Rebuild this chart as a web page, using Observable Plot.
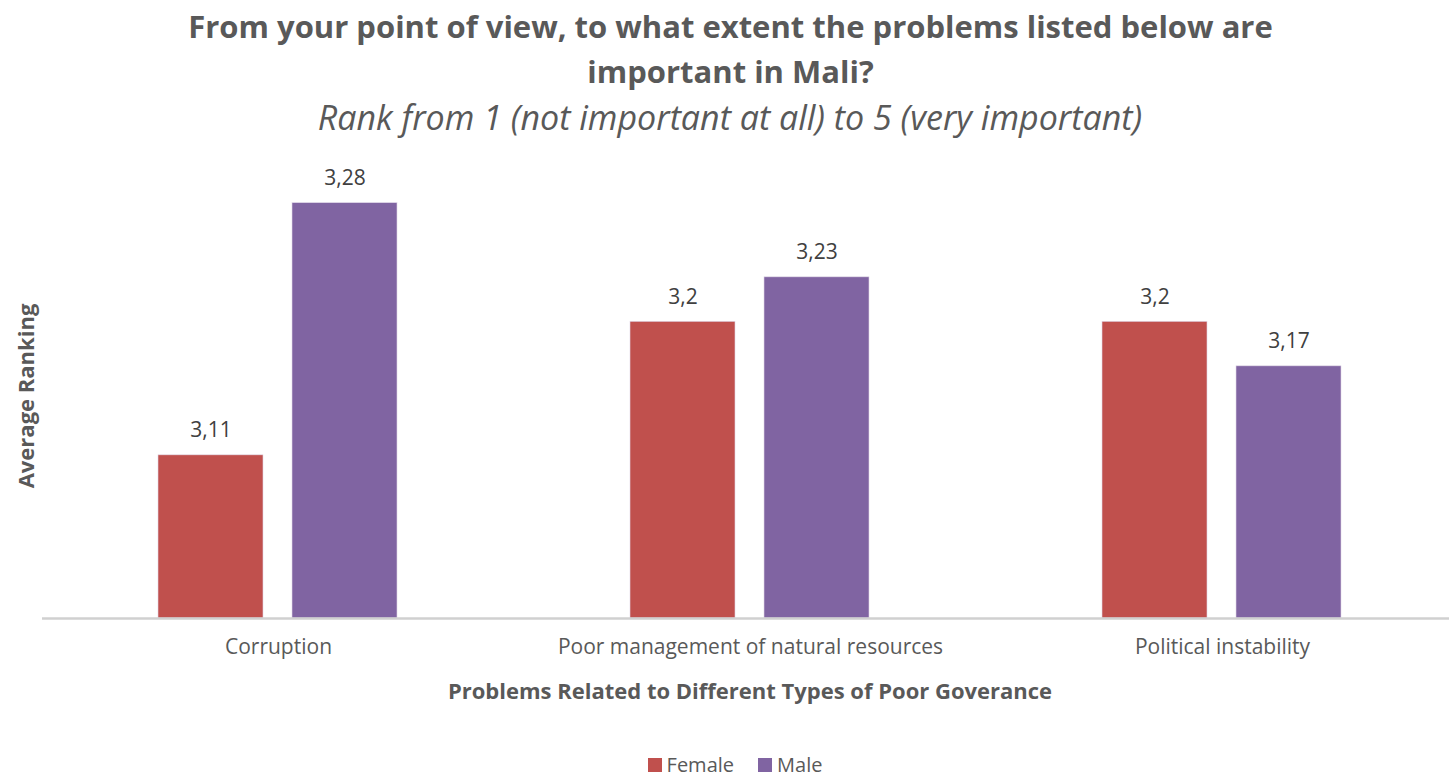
<!DOCTYPE html>
<html>
<head>
<meta charset="utf-8">
<script src="https://cdn.jsdelivr.net/npm/d3@7"></script>
<script src="https://cdn.jsdelivr.net/npm/@observablehq/plot@0.6"></script>
<style>
  html, body { margin: 0; padding: 0; background: #fff; overflow: hidden; }
  #wrap { position: relative; width: 1449px; height: 781px; overflow: hidden; font-family: "Open Sans", Lato, sans-serif; color: #595959; }
  .abs { position: absolute; text-align: center; white-space: nowrap; }
  #title { left: 0; width: 1461px; top: 4px; font-size: 31px; font-weight: bold; line-height: 45px; }
  #subtitle { left: 0; width: 1460px; top: 95px; font-size: 34px; font-style: italic; line-height: 44px; }
  #chart { position: absolute; top: 150px; left: 0; }
  #chart svg { max-width: none; }
  #xlabel { left: 42px; width: 1416px; top: 675px; font-size: 22px; font-weight: bold; line-height: 30px; }
  #ylabel { position: absolute; left: 25px; top: 396px; transform: translate(-50%, -50%) rotate(-90deg); font-size: 22px; font-weight: bold; white-space: nowrap; }
  #legend { left: 0; width: 1470px; top: 752px; font-size: 20px; line-height: 26px; display: flex; justify-content: center; gap: 24px; }
  #legend span.item { display: inline-flex; align-items: center; gap: 5px; }
  #legend span.sw { display: inline-block; width: 14px; height: 14px; }
</style>
</head>
<body>
<div id="wrap">
  <div id="title" class="abs">From your point of view, to what extent the problems listed below are<br>important in Mali?</div>
  <div id="subtitle" class="abs">Rank from 1 (not important at all) to 5 (very important)</div>
  <div id="chart"></div>
  <div id="ylabel">Average Ranking</div>
  <div id="xlabel" class="abs">Problems Related to Different Types of Poor Goverance</div>
  <div id="legend" class="abs"></div>
</div>
<script>
const categories = ["Corruption", "Poor management of natural resources", "Political instability"];
const genders = ["Female", "Male"];
const femaleValues = [3.11, 3.2, 3.2];
const maleValues = [3.28, 3.23, 3.17];
const colors = ["#C0504D", "#8064A2"];
const yBase = 3.0;
const yTop = 3.3;

const rows = [];
categories.forEach((c, i) => {
  rows.push({category: c, gender: "Female", value: femaleValues[i]});
  rows.push({category: c, gender: "Male", value: maleValues[i]});
});

const fmt = v => String(v).replace(".", ",");

const chart = Plot.plot({
  width: 1458,
  height: 560,
  marginLeft: 42,
  marginRight: 0,
  marginTop: 23,
  marginBottom: 92,
  style: {fontFamily: "'Open Sans', Lato, sans-serif", fontSize: "21px", color: "#595959", background: "transparent", maxWidth: "none"},
  fx: {domain: categories, padding: 0, axis: "bottom", tickSize: 0, tickPadding: 21, label: null},
  x: {domain: genders, axis: null, paddingInner: 0.215, paddingOuter: 0.856},
  y: {domain: [yBase, yTop], axis: null},
  color: {domain: genders, range: colors},
  marks: [
    Plot.barY(rows, {fx: "category", x: "gender", y1: yBase, y2: "value", fill: "gender", stroke: "#e0d8e8", strokeWidth: 0.6}),
    Plot.text(rows, {fx: "category", x: "gender", y: "value", text: d => fmt(d.value), dy: -25, fontSize: 21, fill: "#404040"}),
    Plot.ruleY([yBase], {stroke: "#d0d0d0", strokeWidth: 2.5})
  ]
});
document.getElementById("chart").appendChild(chart);

const legend = document.getElementById("legend");
genders.forEach((g, i) => {
  const item = document.createElement("span");
  item.className = "item";
  const sw = document.createElement("span");
  sw.className = "sw";
  sw.style.background = colors[i];
  const t = document.createElement("span");
  t.textContent = g;
  item.appendChild(sw);
  item.appendChild(t);
  legend.appendChild(item);
});
</script>
</body>
</html>
